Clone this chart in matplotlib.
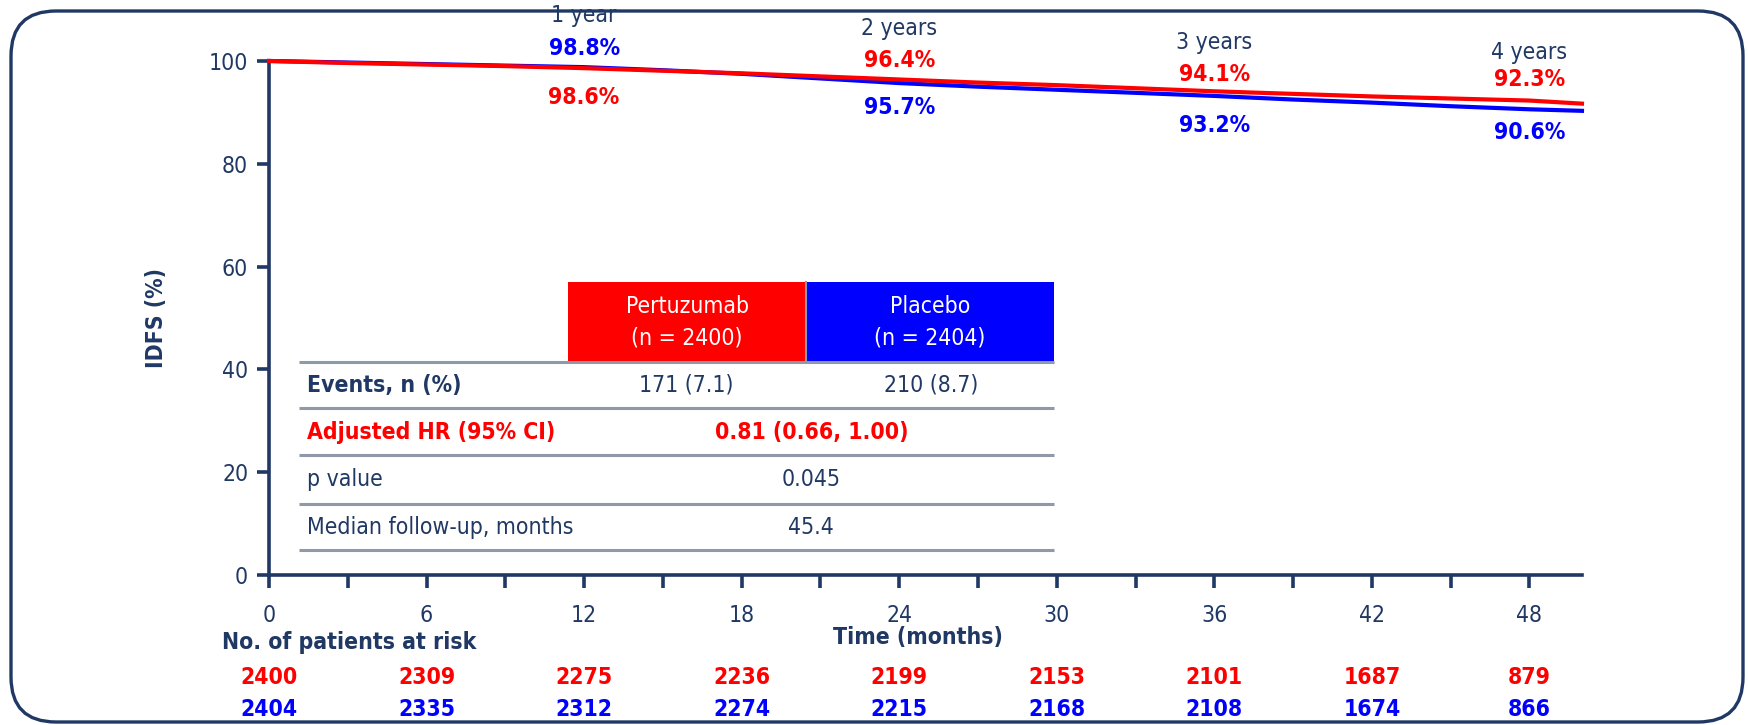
import numpy as np
import matplotlib.pyplot as plt
from matplotlib.patches import FancyBboxPatch, Rectangle

plt.rcParams['font.family'] = ['DejaVu Sans']
plt.rcParams['font.stretch'] = 'condensed'

navy = '#203864'
red = '#ff0000'
blue = '#0000ff'
grey = '#8f99a8'
fs = 16.5

# KM curves (every 3 months)
months = [0, 3, 6, 9, 12, 15, 18, 21, 24, 27, 30, 33, 36, 39, 42, 45, 48, 50]
idfs_pertuzumab = [100, 99.6, 99.3, 99.0, 98.6, 98.1, 97.6, 97.0, 96.4,
                   95.8, 95.3, 94.7, 94.1, 93.6, 93.1, 92.7, 92.3, 91.7]
idfs_placebo = [100, 99.7, 99.4, 99.1, 98.8, 98.2, 97.5, 96.6, 95.7,
                95.0, 94.4, 93.8, 93.2, 92.5, 91.9, 91.2, 90.6, 90.3]

# yearly landmark labels
year_x = [12, 24, 36, 48]
year_labels = ['1 year', '2 years', '3 years', '4 years']
pct_pertuzumab = ['98.6%', '96.4%', '94.1%', '92.3%']
pct_placebo = ['98.8%', '95.7%', '93.2%', '90.6%']

# patients at risk
risk_times = [0, 6, 12, 18, 24, 30, 36, 42, 48]
risk_pertuzumab = [2400, 2309, 2275, 2236, 2199, 2153, 2101, 1687, 879]
risk_placebo = [2404, 2335, 2312, 2274, 2215, 2168, 2108, 1674, 866]

# summary table
arm_names = ['Pertuzumab\n(n = 2400)', 'Placebo\n(n = 2404)']
events = ['171 (7.1)', '210 (8.7)']
hr_text = '0.81 (0.66, 1.00)'
p_text = '0.045'
followup_text = '45.4'

fig = plt.figure(figsize=(17.49, 7.25), dpi=100)

# rounded frame around everything
frame = FancyBboxPatch((0.11, 0.03), 17.32, 7.11,
                       boxstyle='round,pad=0,rounding_size=0.45',
                       transform=fig.dpi_scale_trans, fill=False,
                       edgecolor=navy, linewidth=2.4, zorder=0)
fig.patches.append(frame)

ax = fig.add_axes([0.1538, 0.2069, 0.7507, 0.709])
ax.patch.set_alpha(0)

ax.plot(months, idfs_placebo, color=blue, lw=3, zorder=3, clip_on=False)
ax.plot(months, idfs_pertuzumab, color=red, lw=3, zorder=4, clip_on=False)

ax.set_xlim(0, 50)
ax.set_ylim(0, 100)
for s in ['top', 'right']:
    ax.spines[s].set_visible(False)
for s in ['left', 'bottom']:
    ax.spines[s].set_color(navy)
    ax.spines[s].set_linewidth(2.6)

ax.set_xticks(range(0, 49, 6))
ax.set_xticks(range(3, 49, 6), minor=True)
ax.set_yticks(range(0, 101, 20))
ax.tick_params(axis='both', which='both', colors=navy, width=2.6, length=9,
               labelsize=fs, labelcolor=navy)
ax.tick_params(axis='x', pad=12)
ax.tick_params(axis='y', pad=6)

ax.text(-4.3, 50, 'IDFS (%)', rotation=90, ha='center', va='center',
        fontsize=fs, fontweight='bold', color=navy, clip_on=False)
ax.text(24.7, -12.2, 'Time (months)', ha='center', va='center',
        fontsize=fs, fontweight='bold', color=navy, clip_on=False)
ax.text(-1.8, -13.2, 'No. of patients at risk', ha='left', va='center',
        fontsize=fs, fontweight='bold', color=navy, clip_on=False)

for t, a, b in zip(risk_times, risk_pertuzumab, risk_placebo):
    ax.text(t, -20.0, str(a), ha='center', va='center', fontsize=fs,
            fontweight='bold', color=red, clip_on=False)
    ax.text(t, -26.1, str(b), ha='center', va='center', fontsize=fs,
            fontweight='bold', color=blue, clip_on=False)

# landmark annotations
lab_y = [108.9, 106.3, 103.5, 101.7]
pert_y = [92.8, 100.0, 97.4, 96.3]
plac_y = [102.4, 90.9, 87.4, 86.1]
for i, x in enumerate(year_x):
    ax.text(x, lab_y[i], year_labels[i], ha='center', va='center',
            fontsize=fs, color=navy, clip_on=False, zorder=5)
    ax.text(x, pert_y[i], pct_pertuzumab[i], ha='center', va='center',
            fontsize=fs, fontweight='bold', color=red, clip_on=False)
    ax.text(x, plac_y[i], pct_placebo[i], ha='center', va='center',
            fontsize=fs, fontweight='bold', color=blue, clip_on=False)

# summary table drawn in data coordinates
tx0, tx1 = 1.14, 29.9
col_edges = [11.4, 20.45, 29.9]
head_bot, head_top = 41.5, 57.0
ax.add_patch(Rectangle((col_edges[0], head_bot), col_edges[1] - col_edges[0],
                       head_top - head_bot, facecolor=red, edgecolor='none', zorder=2))
ax.add_patch(Rectangle((col_edges[1], head_bot), col_edges[2] - col_edges[1],
                       head_top - head_bot, facecolor=blue, edgecolor='none', zorder=2))
ax.plot([col_edges[1], col_edges[1]], [head_bot, head_top], color=grey, lw=1.5, zorder=2)
for k, name in enumerate(arm_names):
    ax.text((col_edges[k] + col_edges[k + 1]) / 2, 49.2, name, ha='center',
            va='center', fontsize=fs, color='white', linespacing=1.5, zorder=3)

for yl in [41.5, 32.4, 23.3, 13.9, 4.8]:
    ax.plot([tx0, tx1], [yl, yl], color=grey, lw=2.2, zorder=2,
            solid_capstyle='butt')

row_y = [36.9, 27.8, 18.6, 9.3]
mid = (col_edges[0] + col_edges[2]) / 2
lx = 1.45
ax.text(lx, row_y[0], 'Events, n (%)', ha='left', va='center', fontsize=fs,
        fontweight='bold', color=navy)
ax.text(15.9, row_y[0], events[0], ha='center', va='center', fontsize=fs, color=navy)
ax.text(25.2, row_y[0], events[1], ha='center', va='center', fontsize=fs, color=navy)
ax.text(lx, row_y[1], 'Adjusted HR (95% CI)', ha='left', va='center', fontsize=fs,
        fontweight='bold', color=red)
ax.text(mid, row_y[1], hr_text, ha='center', va='center', fontsize=fs,
        fontweight='bold', color=red)
ax.text(lx, row_y[2], 'p value', ha='left', va='center', fontsize=fs, color=navy)
ax.text(mid, row_y[2], p_text, ha='center', va='center', fontsize=fs, color=navy)
ax.text(lx, row_y[3], 'Median follow-up, months', ha='left', va='center',
        fontsize=fs, color=navy)
ax.text(mid, row_y[3], followup_text, ha='center', va='center', fontsize=fs, color=navy)

fig.savefig('out.png', dpi=100)
